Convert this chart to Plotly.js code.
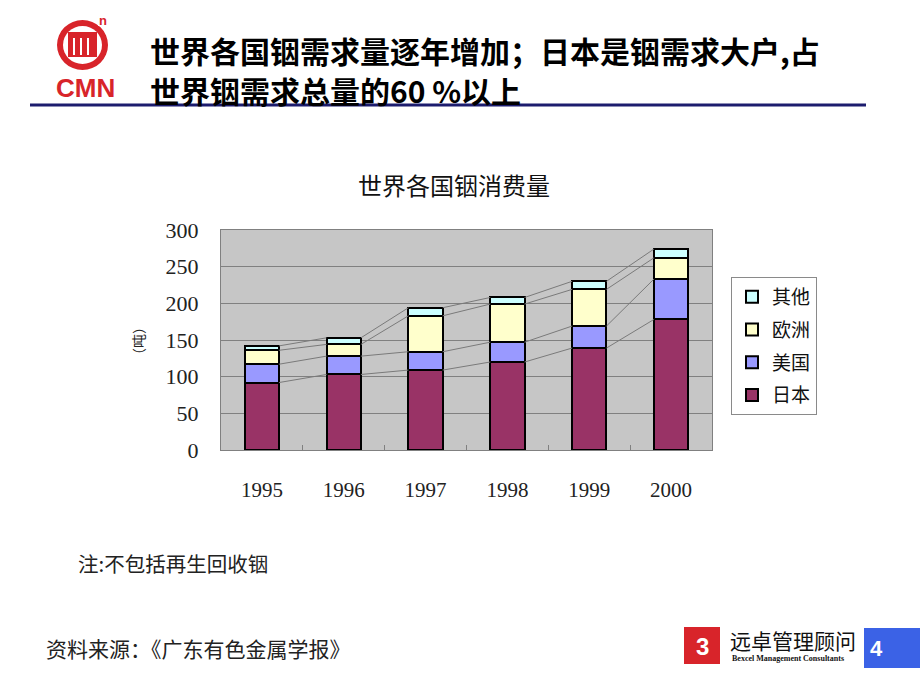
<!DOCTYPE html>
<html>
<head>
<meta charset="utf-8">
<script src="https://cdn.plot.ly/plotly-3.0.1.min.js"></script>
<style>
html,body{margin:0;padding:0;background:#fff;}
#chart{width:920px;height:690px;}
</style>
</head>
<body>
<div id="chart"></div>
<script>
// ---- data ----
const years = ['1995', '1996', '1997', '1998', '1999', '2000'];
const japan  = [92, 103, 109, 120, 139, 178];
const usa    = [25, 25, 25, 27, 30, 55];
const europe = [19, 16, 49, 52, 50, 29];
const others = [6, 9, 11, 9, 11, 12];
const seriesNames = ['日本', '美国', '欧洲', '其他'];
const yTicks = [0, 50, 100, 150, 200, 250, 300];

// ---- layout helpers (pixel -> paper) ----
const W = 920, H = 690;
const L = 221, R = 712, T = 230, B = 450;
const px = X => (X - L) / (R - L);
const py = Y => (B - Y) / (B - T);

const CJK = '"Noto Sans CJK SC", "Noto Sans", sans-serif';
const SERIF = '"Liberation Serif", "DejaVu Serif", serif';
const SANS = '"Liberation Sans", Arial, sans-serif';

const xs = years.map((_, i) => i);
const barW = 0.42;
const colors = ['#993366', '#9999FF', '#FFFFCC', '#CCFFFF'];
const values = [japan, usa, europe, others];

const traces = values.map((v, k) => ({
  type: 'bar',
  x: xs,
  y: v,
  name: seriesNames[k],
  width: barW,
  legendgroup: 'g' + k,
  legendrank: values.length - k,
  marker: {color: colors[k], line: {color: '#000', width: 2}},
  hoverinfo: 'x+y+name'
}));

// series lines connecting stacked segment tops
const cum = [];
let run = years.map(() => 0);
values.forEach(v => {
  run = run.map((r, i) => r + v[i]);
  cum.push(run.slice());
});
cum.forEach(level => {
  const lx = [], ly = [];
  for (let i = 0; i < years.length - 1; i++) {
    lx.push(xs[i] + barW / 2, xs[i + 1] - barW / 2, null);
    ly.push(level[i], level[i + 1], null);
  }
  traces.push({
    type: 'scatter', mode: 'lines', x: lx, y: ly, xaxis: 'x2',
    line: {color: '#7a7a7a', width: 1}, showlegend: false, hoverinfo: 'skip'
  });
});

const layout = {
  width: W, height: H,
  margin: {l: L, r: W - R, t: T, b: H - B, pad: 0},
  paper_bgcolor: '#ffffff',
  plot_bgcolor: '#c6c6c6',
  barmode: 'stack',
  showlegend: true,
  legend: {
    x: px(731), y: py(277), xanchor: 'left', yanchor: 'top',
    traceorder: 'grouped', tracegroupgap: 5,
    bgcolor: '#ffffff', bordercolor: '#8a8a8a', borderwidth: 1,
    font: {family: CJK, size: 19, color: '#111'},
    itemwidth: 30
  },
  xaxis: {
    range: [-0.5, 5.5], tickvals: xs, ticktext: years,
    showgrid: false, zeroline: false, ticks: '',
    showline: true, linecolor: '#808080', linewidth: 1, mirror: true,
    tickfont: {family: SERIF, size: 21, color: '#222'},
    ticklabelstandoff: 21
  },
  xaxis2: {
    overlaying: 'x', anchor: 'y', range: [-0.5, 5.5],
    tickvals: [0.5, 1.5, 2.5, 3.5, 4.5], ticks: 'inside', ticklen: 5,
    tickcolor: '#808080', showticklabels: false, showgrid: false,
    zeroline: false, showline: false
  },
  yaxis: {
    range: [0, 300], tickvals: yTicks,
    gridcolor: '#808080', gridwidth: 1, zeroline: false,
    showline: true, linecolor: '#808080', linewidth: 1, mirror: true,
    ticks: '', tickfont: {family: SERIF, size: 22, color: '#222'},
    ticklabelstandoff: 17
  },
  shapes: [
    // header rule
    {type: 'line', xref: 'paper', yref: 'paper', x0: px(30), x1: px(866), y0: py(105), y1: py(105),
     line: {color: '#1c1c6e', width: 3}},
    // CMN logo
    {type: 'circle', xref: 'paper', yref: 'paper', x0: px(57), x1: px(108), y0: py(20), y1: py(70),
     fillcolor: '#d8242a', line: {width: 0}},
    {type: 'circle', xref: 'paper', yref: 'paper', x0: px(63), x1: px(102), y0: py(26), y1: py(64),
     fillcolor: '#ffffff', line: {width: 0}},
    {type: 'rect', xref: 'paper', yref: 'paper', x0: px(68), x1: px(97), y0: py(32), y1: py(57),
     fillcolor: '#d8242a', line: {width: 0}},
    {type: 'rect', xref: 'paper', yref: 'paper', x0: px(73), x1: px(75), y0: py(38), y1: py(55),
     fillcolor: '#ffffff', line: {width: 0}},
    {type: 'rect', xref: 'paper', yref: 'paper', x0: px(80), x1: px(82), y0: py(38), y1: py(55),
     fillcolor: '#ffffff', line: {width: 0}},
    {type: 'rect', xref: 'paper', yref: 'paper', x0: px(87), x1: px(89), y0: py(38), y1: py(55),
     fillcolor: '#ffffff', line: {width: 0}},
    {type: 'rect', xref: 'paper', yref: 'paper', x0: px(98), x1: px(108), y0: py(14), y1: py(26),
     fillcolor: '#ffffff', line: {width: 0}},
    // footer logo book
    {type: 'rect', xref: 'paper', yref: 'paper', x0: px(684), x1: px(720), y0: py(627), y1: py(664),
     fillcolor: '#d8242a', line: {width: 0}},
    // page number box
    {type: 'rect', xref: 'paper', yref: 'paper', x0: px(864), x1: px(920), y0: py(628), y1: py(668),
     fillcolor: '#3b62e6', line: {width: 0}}
  ],
  annotations: [
    {text: '<b>世界各国铟需求量逐年增加；日本是铟需求大户,占</b>', xref: 'paper', yref: 'paper',
     x: px(148), y: py(50), xanchor: 'left', yanchor: 'middle', showarrow: false,
     font: {family: CJK, size: 30, color: '#000'}},
    {text: '<b>世界铟需求总量的60 %以上</b>', xref: 'paper', yref: 'paper',
     x: px(148), y: py(90), xanchor: 'left', yanchor: 'middle', showarrow: false,
     font: {family: CJK, size: 30, color: '#000'}},
    {text: '<b>CMN</b>', xref: 'paper', yref: 'paper',
     x: px(85), y: py(88), xanchor: 'center', yanchor: 'middle', showarrow: false,
     font: {family: SANS, size: 26, color: '#d8242a'}},
    {text: '<b>n</b>', xref: 'paper', yref: 'paper',
     x: px(103), y: py(20), xanchor: 'center', yanchor: 'middle', showarrow: false,
     font: {family: SANS, size: 13, color: '#d8242a'}},
    {text: '世界各国铟消费量', xref: 'paper', yref: 'paper',
     x: px(454), y: py(184), xanchor: 'center', yanchor: 'middle', showarrow: false,
     font: {family: CJK, size: 24, color: '#111'}},
    {text: '（吨）', xref: 'paper', yref: 'paper', textangle: -90,
     x: px(138), y: py(341), xanchor: 'center', yanchor: 'middle', showarrow: false,
     font: {family: CJK, size: 14, color: '#222'}},
    {text: '注:不包括再生回收铟', xref: 'paper', yref: 'paper',
     x: px(76), y: py(563), xanchor: 'left', yanchor: 'middle', showarrow: false,
     font: {family: CJK, size: 20.5, color: '#222'}},
    {text: '资料来源：《广东有色金属学报》', xref: 'paper', yref: 'paper',
     x: px(44), y: py(648), xanchor: 'left', yanchor: 'middle', showarrow: false,
     font: {family: CJK, size: 21, color: '#222'}},
    {text: '<b>3</b>', xref: 'paper', yref: 'paper',
     x: px(702), y: py(646), xanchor: 'center', yanchor: 'middle', showarrow: false,
     font: {family: SANS, size: 24, color: '#ffffff'}},
    {text: '远卓管理顾问', xref: 'paper', yref: 'paper',
     x: px(728), y: py(640), xanchor: 'left', yanchor: 'middle', showarrow: false,
     font: {family: CJK, size: 21, color: '#111'}},
    {text: '<b>Bexcel Management Consultants</b>', xref: 'paper', yref: 'paper',
     x: px(730), y: py(658), xanchor: 'left', yanchor: 'middle', showarrow: false,
     font: {family: SERIF, size: 8, color: '#111'}},
    {text: '<b>4</b>', xref: 'paper', yref: 'paper',
     x: px(876), y: py(648), xanchor: 'center', yanchor: 'middle', showarrow: false,
     font: {family: SANS, size: 22, color: '#ffffff'}}
  ]
};

Plotly.newPlot('chart', traces, layout, {displayModeBar: false, staticPlot: true});
</script>
</body>
</html>
